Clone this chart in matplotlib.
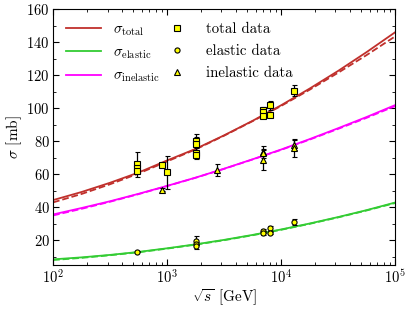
#
# Total, elastic and inelastic pp cross sections vs sqrt(s)
#
import numpy as np
import matplotlib
matplotlib.use('Agg')
import matplotlib.pyplot as plt
from matplotlib.ticker import MultipleLocator

plt.rcParams['font.family'] = 'serif'
plt.rcParams['font.serif'] = ['cmr10']
plt.rcParams['mathtext.fontset'] = 'cm'
plt.rcParams['axes.unicode_minus'] = False
plt.rcParams['axes.formatter.use_mathtext'] = True
plt.rcParams['font.size'] = 10

sqrt_s_model = [1e2, 1.778e2, 3.162e2, 5.623e2, 1e3, 1.778e3, 3.162e3, 5.623e3,
                1e4, 1.778e4, 3.162e4, 5.623e4, 1e5]
tot_solid = [44.3, 49.2, 54.8, 61.0, 68.3, 75.3, 83.5, 92.3, 101.7, 111.8, 122.5, 133.9, 145.9]
tot_dashed = [42.9, 48.0, 53.9, 60.4, 67.7, 75.0, 83.3, 92.1, 101.3, 111.1, 121.4, 132.1, 143.4]
inel_solid = [35.6, 39.5, 43.6, 48.1, 52.9, 57.9, 63.3, 69.0, 74.9, 81.2, 87.8, 94.6, 101.8]
inel_dashed = [35.0, 39.0, 43.3, 47.9, 52.8, 57.8, 63.2, 68.9, 74.7, 80.9, 87.4, 94.1, 101.2]
el_solid = [8.4, 9.6, 11.1, 12.9, 15.1, 17.5, 20.2, 23.2, 26.5, 30.1, 34.0, 38.2, 42.8]
el_dashed = [8.0, 9.3, 10.9, 12.7, 14.9, 17.3, 20.0, 23.0, 26.3, 29.9, 33.8, 38.0, 42.5]

# measurements
tot_x = [546, 546, 546, 900, 1000, 1800, 1800, 1800, 1800, 7000, 7000, 7000, 8000, 8000, 13000]
tot_y = [66.0, 63.5, 61.9, 65.3, 61.0, 80.0, 78.3, 72.8, 71.4, 98.6, 97.4, 95.4, 101.7, 96.1, 110.5]
tot_err = [7.5, 1.5, 1.5, 1.0, 9.7, 2.2, 5.9, 3.1, 2.0, 2.2, 2.0, 1.4, 2.9, 0.9, 3.3]

el_x = [546, 1800, 1800, 1800, 7000, 7000, 8000, 8000, 13000]
el_y = [13.0, 19.6, 17.8, 16.3, 25.4, 24.2, 27.1, 24.3, 31.0]
el_err = [0.3, 2.7, 1.0, 1.6, 1.1, 1.2, 1.4, 0.4, 1.7]

inel_x = [900, 2760, 7000, 7000, 7000, 13000, 13000]
inel_y = [50.7, 62.4, 73.5, 72.9, 68.8, 77.6, 75.6]
inel_err = [1.0, 3.6, 3.5, 1.5, 6.5, 3.0, 5.5]

c_tot = '#c0302c'
c_el = '#33cc33'
c_inel = '#ff00ff'

fig = plt.figure(figsize=(4.15, 3.11), dpi=100)
ax = fig.add_axes([0.128, 0.148, 0.824, 0.823])

ax.plot(sqrt_s_model, tot_dashed, '--', color=c_tot, lw=1.3)
ax.plot(sqrt_s_model, el_dashed, '--', color=c_el, lw=1.3)
ax.plot(sqrt_s_model, inel_dashed, '--', color=c_inel, lw=1.3)
l1, = ax.plot(sqrt_s_model, tot_solid, '-', color=c_tot, lw=1.3)
l2, = ax.plot(sqrt_s_model, el_solid, '-', color=c_el, lw=1.3)
l3, = ax.plot(sqrt_s_model, inel_solid, '-', color=c_inel, lw=1.3)

ms = 3.7
ekw = dict(ls='none', ecolor='k', elinewidth=0.9, capsize=1.8, capthick=0.9,
           mfc='yellow', mec='k', mew=0.8, ms=ms)
ax.errorbar(tot_x, tot_y, yerr=tot_err, fmt='s', **ekw)
ax.errorbar(el_x, el_y, yerr=el_err, fmt='o', **ekw)
ax.errorbar(inel_x, inel_y, yerr=inel_err, fmt='^', **ekw)

ax.set_xscale('log')
ax.set_xlim(1e2, 1e5)
ax.set_ylim(5, 160)
ax.set_yticks([20, 40, 60, 80, 100, 120, 140, 160])
ax.yaxis.set_minor_locator(MultipleLocator(10))
ax.tick_params(which='both', direction='in', top=True, right=True)
ax.tick_params(which='major', length=4, width=0.8, labelsize=10.5, pad=2.5)
ax.tick_params(which='minor', length=2, width=0.6)

ax.set_xlabel(r'$\sqrt{s}$ [GeV]', fontsize=11, labelpad=1)
ax.set_ylabel(r'$\sigma$ [mb]', fontsize=11, labelpad=2)

# marker entries without error bars in the legend
h1 = ax.plot([], [], 's', mfc='yellow', mec='k', mew=0.8, ms=ms)[0]
h2 = ax.plot([], [], 'o', mfc='yellow', mec='k', mew=0.8, ms=ms)[0]
h3 = ax.plot([], [], '^', mfc='yellow', mec='k', mew=0.8, ms=ms)[0]
ax.legend([l1, l2, l3, h1, h2, h3],
          [r'$\sigma_{\rm total}$', r'$\sigma_{\rm elastic}$', r'$\sigma_{\rm inelastic}$',
           'total data', 'elastic data', 'inelastic data'],
          ncol=2, frameon=False, loc='upper left', bbox_to_anchor=(0.0, 1.0),
          fontsize=10.7, handlelength=2.3, handletextpad=0.8,
          columnspacing=0.0, labelspacing=0.55)

plt.savefig('out.png', dpi=100)
